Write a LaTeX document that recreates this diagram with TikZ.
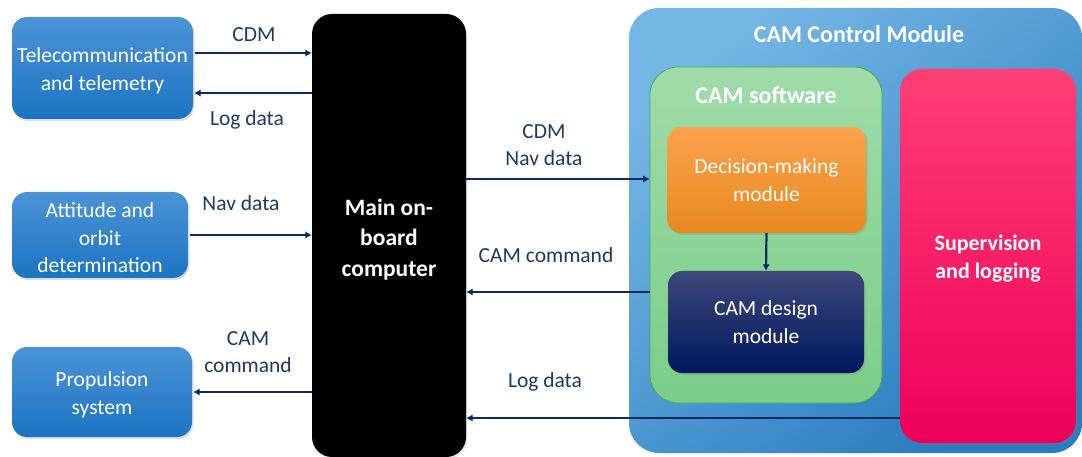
\documentclass[tikz,border=0pt]{standalone}
\usepackage{fontspec}
\setmainfont{Carlito}
\usetikzlibrary{arrows.meta,shadows}

\definecolor{boxTop}{HTML}{4C93D6}
\definecolor{boxBot}{HTML}{1C74C2}
\definecolor{camTop}{HTML}{74B6E4}
\definecolor{camBot}{HTML}{2A7CC0}
\definecolor{swTop}{HTML}{A0DCAA}
\definecolor{swBot}{HTML}{7BCD89}
\definecolor{swLine}{HTML}{3FAE55}
\definecolor{dmTop}{HTML}{FCA24E}
\definecolor{dmBot}{HTML}{E8891E}
\definecolor{dsTop}{HTML}{3D477A}
\definecolor{dsBot}{HTML}{00185F}
\definecolor{supTop}{HTML}{FF3F75}
\definecolor{supBot}{HTML}{EE0059}
\definecolor{flowC}{HTML}{0E2A66}
\definecolor{labC}{HTML}{1F3864}

\tikzset{
  base/.style={font=\fontsize{21.5pt}{27.5pt}\selectfont},
  boxtext/.style={base, text=white, align=center, yshift=-3pt},
  bluebox/.style={rectangle, rounded corners=15pt,
    top color=boxTop, bottom color=boxBot,
    drop shadow={opacity=0.25, shadow xshift=1.5pt, shadow yshift=-2pt}},
  inner/.style={base, rectangle, text=white, align=center,
    drop shadow={opacity=0.25, shadow xshift=1.5pt, shadow yshift=-2pt}},
  title/.style={font=\fontsize{24pt}{28pt}\selectfont\bfseries, text=white},
  lab/.style={base, text=labC, align=center},
  flow/.style={draw=flowC, line width=2.2pt, -{Latex[length=6.5pt,width=7.5pt]}}
}

\begin{document}
\begin{tikzpicture}[x=1pt,y=-1pt]
\useasboundingbox (0,0) rectangle (1082,457);

% external subsystems
\node[bluebox, minimum width=181pt, minimum height=102pt,
  label={[boxtext]center:Telecommunication\\and telemetry}] (tel) at (102.5,68) {};
\node[bluebox, minimum width=176pt, minimum height=86pt,
  label={[boxtext]center:Attitude and\\orbit\\determination}] (att) at (100,235) {};
\node[bluebox, minimum width=180pt, minimum height=90pt,
  label={[boxtext]center:Propulsion\\system}] (prop) at (102,392) {};

% main on-board computer
\node[rectangle, rounded corners=20pt, fill=black, minimum width=154pt, minimum height=443pt,
  drop shadow={opacity=0.2, shadow xshift=1.5pt, shadow yshift=-2pt},
  label={[text=white, align=center, font=\fontsize{23.5pt}{30.5pt}\selectfont\bfseries, yshift=-4pt]center:Main on-\\board\\computer}] (mob) at (389,235.5) {};

% CAM control module and its contents
\node[rectangle, rounded corners=30pt, minimum width=453pt, minimum height=445pt,
  top color=camTop, bottom color=camBot, shading angle=40] (cam) at (855.5,230.5) {};
\node[title] (camt) at (859,34) {CAM Control Module};

\node[rectangle, rounded corners=28pt, minimum width=232pt, minimum height=336pt,
  top color=swTop, bottom color=swBot, draw=swLine, line width=0.8pt] (sw) at (766,235) {};
\node[title] (swt) at (766,95) {CAM software};

\node[inner, rounded corners=14pt, minimum width=199pt, minimum height=106pt,
  top color=dmTop, bottom color=dmBot] (dm) at (766.5,180) {Decision-making\\module};
\node[inner, rounded corners=14pt, minimum width=196pt, minimum height=102pt,
  top color=dsTop, bottom color=dsBot] (ds) at (766,322) {CAM design\\module};

\node[rectangle, rounded corners=22pt, minimum width=176pt, minimum height=374pt,
  top color=supTop, bottom color=supBot,
  drop shadow={opacity=0.25, shadow xshift=1.5pt, shadow yshift=-2pt},
  label={[text=white, align=center, font=\fontsize{22pt}{28pt}\selectfont\bfseries, yshift=-3pt]center:Supervision\\and logging}] (sup) at (988,256) {};

% data flows
\draw[flow] ([xshift=2pt,yshift=15pt]tel.east) -- ([yshift=15pt]tel.east -| mob.west);
\draw[flow] ([yshift=-25pt]tel.east -| mob.west) -- ([xshift=1pt,yshift=-25pt]tel.east);
\draw[flow] ([xshift=2pt]att.east) -- (att.east -| mob.west);
\draw[flow] (prop.east -| mob.west) -- ([xshift=1pt]prop.east);

\coordinate (inA) at ([yshift=56pt]sw.west);
\coordinate (inB) at ([yshift=-57pt]sw.west);
\coordinate (inC) at ([yshift=-162pt]sup.west);
\draw[flow] (inA -| mob.east) -- (inA);
\draw[flow] (inB) -- (inB -| mob.east);
\draw[flow] (inC) -- (inC -| mob.east);
\draw[flow] (dm.south) -- (ds.north);

% flow labels
\node[lab] (l1) at (254,35) {CDM};
\node[lab] (l2) at (247,120) {Log data};
\node[lab] (l3) at (241,203) {Nav data};
\node[lab] (l4) at (248,352) {CAM\\command};
\node[lab] (l5) at (544,145) {CDM\\Nav data};
\node[lab] (l6) at (546,255) {CAM command};
\node[lab] (l7) at (545,382) {Log data};
\end{tikzpicture}
\end{document}
